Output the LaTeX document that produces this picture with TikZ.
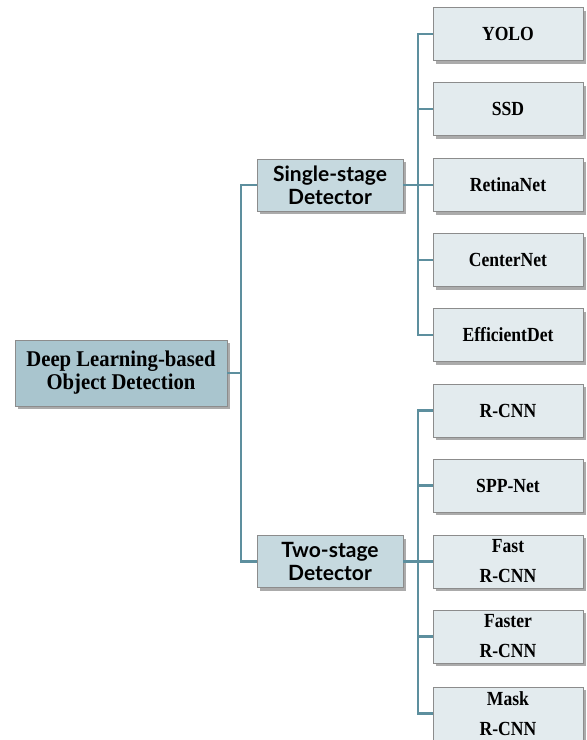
\documentclass[tikz,border=0pt]{standalone}
\usepackage{fontspec}
\usetikzlibrary{shadows}
\newfontfamily\rootfont{Liberation Serif}[FakeStretch=0.92]
\newfontfamily\leaffont{Liberation Serif}[FakeStretch=0.88]
\newfontfamily\stagefont{Lato}
\definecolor{rootfill}{HTML}{A9C5CE}
\definecolor{stagefill}{HTML}{C6D9DF}
\definecolor{leaffill}{HTML}{E3EBEE}
\definecolor{linkcol}{HTML}{5D8F9E}
\definecolor{edgecol}{HTML}{8C8C8C}
\begin{document}
\begin{tikzpicture}[x=1pt,y=-1pt,
  box/.style={draw=edgecol, line width=0.8pt, align=center, inner sep=0pt,
    drop shadow={shadow xshift=2.5pt, shadow yshift=-3pt, opacity=0.55, fill=black!60}},
  rootbox/.style={box, fill=rootfill, minimum width=212pt, minimum height=66pt,
    font=\rootfont\bfseries\fontsize{22.5}{23}\selectfont},
  stagebox/.style={box, fill=stagefill, minimum width=146pt, minimum height=52pt,
    font=\stagefont\bfseries\fontsize{21}{23}\selectfont},
  leafbox/.style={box, fill=leaffill, minimum width=150pt, minimum height=53pt,
    font=\leaffont\bfseries\fontsize{20}{30}\selectfont},
  link/.style={draw=linkcol, line width=2.5pt}
]
\useasboundingbox[fill=white] (0,0) rectangle (587,740);

% junction points of the tree
\coordinate (rj) at (241,373);
\coordinate (sj) at (418,185);
\coordinate (tj) at (418,561.5);

% root and the two detector families
\node[rootbox]  (root)   at (121,373)   {Deep Learning-based\\Object Detection};
\node[stagebox] (single) at (330,185)   {Single-stage\\Detector};
\node[stagebox] (two)    at (330,561.5) {Two-stage\\Detector};

% single-stage methods
\node[leafbox] (yolo)   at (508,34)  {YOLO};
\node[leafbox] (ssd)    at (508,109) {SSD};
\node[leafbox] (retina) at (508,185) {RetinaNet};
\node[leafbox] (center) at (508,260) {CenterNet};
\node[leafbox] (effdet) at (508,335) {EfficientDet};

% two-stage methods
\node[leafbox] (rcnn)   at (508,410.5) {R-CNN};
\node[leafbox] (spp)    at (508,485.5) {SPP-Net};
\node[leafbox] (fast)   at (508,561.5) {Fast\\R-CNN};
\node[leafbox] (faster) at (508,636.5) {Faster\\R-CNN};
\node[leafbox] (mask)   at (508,713.5) {Mask\\R-CNN};

% connectors
\draw[link] (root.east) -- (rj);
\draw[link] (rj) |- (single.west);
\draw[link] (rj) |- (two.west);

\draw[link] (single.east) -- (sj);
\foreach \n in {yolo,ssd,retina,center,effdet}
  \draw[link] (sj) |- (\n.west);

\draw[link] (two.east) -- (tj);
\foreach \n in {rcnn,spp,fast,faster,mask}
  \draw[link] (tj) |- (\n.west);
\end{tikzpicture}
\end{document}
